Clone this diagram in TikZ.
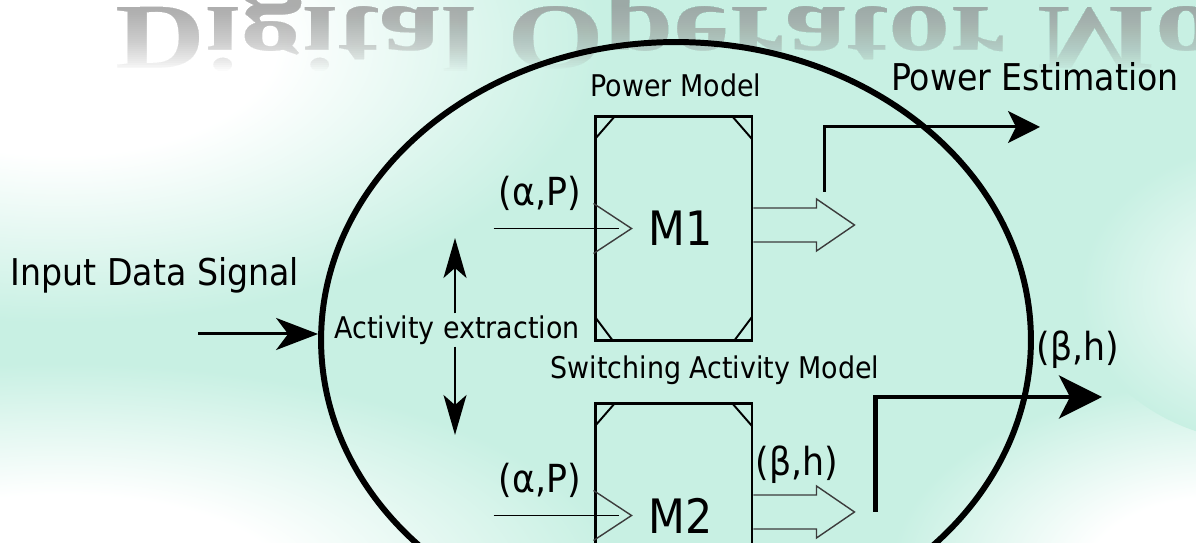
\documentclass[tikz,border=0pt]{standalone}
\usepackage{fontspec}
\setmainfont{DejaVu Sans Condensed}
\newfontfamily\markfont{Liberation Serif}
\usetikzlibrary{arrows.meta,positioning,calc,shapes.geometric}
\definecolor{mint}{RGB}{200,240,227}
\definecolor{markgrey}{RGB}{150,150,150}
\definecolor{hollowgrey}{RGB}{60,60,60}
\pgfdeclareradialshading{whiteglow}{\pgfpointorigin}{color(0bp)=(white); color(10bp)=(white); color(25bp)=(mint); color(50bp)=(mint)}
\pgfdeclareradialshading{softglow}{\pgfpointorigin}{color(0bp)=(white!70!mint); color(6bp)=(white!70!mint); color(25bp)=(mint); color(50bp)=(mint)}
\newcommand{\bigtxt}{\fontsize{21}{25}\selectfont}
\newcommand{\midtxt}{\fontsize{17}{20}\selectfont}
\newcommand{\lbltxt}{\fontsize{22}{26}\selectfont}
\newcommand{\mtxt}{\fontsize{27}{32}\selectfont}
\tikzset{
  model/.style    = {draw, line width=1.7pt, minimum width=3.14cm, minimum height=4.5cm,
                     inner sep=0pt, font=\mtxt,
                     path picture={
                       \draw[cut] ($(path picture bounding box.north west)+(0,-23)$) -- ++(20,23);
                       \draw[cut] ($(path picture bounding box.north east)+(0,-23)$) -- ++(-20,23);
                       \draw[cut] ($(path picture bounding box.south west)+(0,24)$) -- ++(18,-24);
                       \draw[cut] ($(path picture bounding box.south east)+(0,24)$) -- ++(-18,-24);
                     }},
  cut/.style      = {line width=1.1pt},
  feed/.style     = {line width=1.1pt},
  hollow/.style   = {line width=0.8pt, draw=hollowgrey, line join=miter},
  inarrow/.style  = {line width=1.7pt, -{Stealth[length=8.4mm, width=6.4mm, inset=2.4mm]}},
  vert/.style     = {line width=1.1pt, -{Stealth[length=8mm, width=4.6mm, inset=2mm]}},
  estarrow/.style = {line width=1.7pt, -{Stealth[length=6.4mm, width=6.4mm, inset=1.6mm]}},
  outarrow/.style = {line width=2.3pt, -{Stealth[length=8.6mm, width=8.6mm, inset=2.2mm]}},
  lbl/.style      = {inner sep=1pt},
  titlemark/.style = {anchor=base west, inner sep=0pt, xscale=1.34, yscale=-1, text=markgrey,
                     font=\markfont\bfseries\fontsize{53}{60}\selectfont},
}

\begin{document}
\begin{tikzpicture}[x=0.02cm, y=0.02cm]
  % backdrop
  \fill[mint, use as bounding box] (0,0) rectangle (1196,543);
  \shade[shading=whiteglow] (60,500) ellipse (540 and 280);
  \shade[shading=whiteglow] (60,-40) ellipse (560 and 220);
  \shade[shading=whiteglow] (1220,-30) ellipse (330 and 190);
  \shade[shading=softglow] (1270,250) ellipse (190 and 150);
  % mirrored title, fading downwards (stacked layers)
  \foreach \i in {0,...,32} {
    \begin{scope}
      \clip (0,{536-2*\i}) rectangle (1196,570);
      \node[titlemark, opacity=0.037] (mark\i) at (115,535) {Digital Operator Model};
    \end{scope}
  }

  \node[ellipse, draw, line width=3.4pt, minimum width=14.2cm, minimum height=11.92cm, inner sep=0pt] (core) at (676,203) {};
  \node[model] (m1) at (673.5,314.5) {\hspace*{8pt}M1};
  \node[model] (m2) at (673.5,27.5) {\hspace*{8pt}M2};

  \node[lbl, font=\bigtxt] (insig) at (155,268) {Input Data Signal};
  \node[lbl, font=\midtxt] (pmodel) at (676,458) {Power Model};
  \node[lbl, font=\bigtxt] (pest) at (1035,466) {Power Estimation};
  \node[lbl, font=\midtxt] (swmodel) at (715,173) {Switching Activity Model};
  \node[lbl, font=\midtxt] (actx) at (457,213) {Activity extraction};
  \node[lbl, font=\lbltxt] (ap1) at (540,350) {(α,P)};
  \node[lbl, font=\lbltxt] (ap2) at (540,63) {(α,P)};
  \node[lbl, font=\lbltxt] (bh2) at (797,78) {(β,h)};
  \node[lbl, font=\lbltxt] (bh1) at (1078,193) {(β,h)};

  \coordinate (src) at (198,209);
  \draw[inarrow] (src) -- (src -| core.west);
  \coordinate (uptip) at (455,305);
  \coordinate (downtip) at (455,108);
  \draw[vert] (uptip |- actx.north) -- (uptip);
  \draw[vert] (downtip |- actx.south) -- (downtip);

  \foreach \m in {m1, m2} {
    \draw[feed] ([shift={(-100,0)}]\m.west) -- ([shift={(25,0)}]\m.west);
    \draw[hollow] ([shift={(0,25)}]\m.west) -- ([shift={(38,0)}]\m.west) -- ([shift={(0,-25)}]\m.west);
    \draw[hollow] ([shift={(0,20.5)}]\m.east) -- ++(63,0) -- ++(0,9) -- ++(38,-26) -- ++(-38,-26) -- ++(0,9) -- ++(-63,0);
  }

  \coordinate (pestend) at (1040,416);
  \draw[estarrow] ([shift={(71,36.5)}]m1.east) |- (pestend);
  \coordinate (bhend) at (1102,146);
  \draw[outarrow] ([shift={(122,3.5)}]m2.east) |- (bhend);
\end{tikzpicture}
\end{document}
